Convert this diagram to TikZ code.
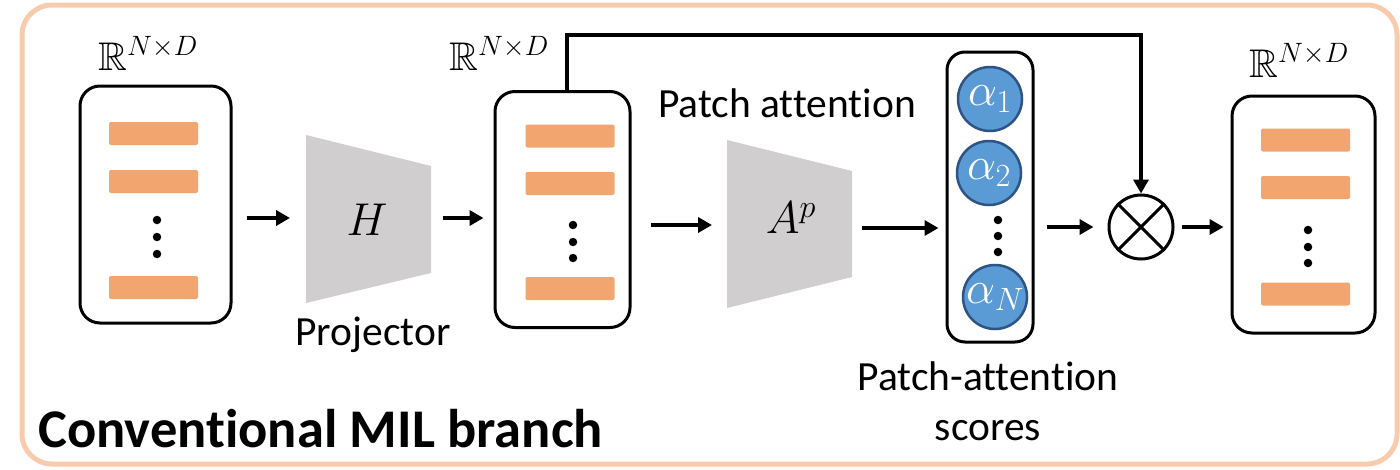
\RequirePackage{fix-cm}
\documentclass[tikz,border=0pt]{standalone}
\usepackage{amssymb}
\usepackage{fontspec}
\setmainfont{Carlito}[RawFeature={-liga;-clig;-calt;-dlig}]
\usetikzlibrary{arrows.meta}
\definecolor{frameor}{HTML}{F8CBAD}
\definecolor{baror}{HTML}{F3A56F}
\definecolor{trapgray}{HTML}{D0CECE}
\definecolor{circblue}{HTML}{5B9BD5}
\definecolor{circedge}{HTML}{2E5486}
\tikzset{
  featbox/.style={draw=black, line width=3pt, rounded corners=20pt, fill=white},
  bar/.style={fill=baror, rounded corners=2pt, draw=none, minimum width=89pt, minimum height=23pt, inner sep=0pt},
  vdot/.style={fill=black, circle, minimum size=8.5pt, inner sep=0pt},
  arr/.style={line width=3.5pt, -{Triangle[length=14pt,width=15pt]}},
  alpha/.style={circle, fill=circblue, draw=circedge, line width=2.5pt, minimum size=64pt, inner sep=0pt, text=white, font=\fontsize{46}{48}\selectfont},
  txt/.style={font=\fontsize{41.5}{50}\selectfont, inner sep=0pt},
  rlab/.style={font=\fontsize{40}{44}\selectfont, inner sep=0pt, anchor=base},
  trap/.style={fill=trapgray, draw=none}
}
\begin{document}
\begin{tikzpicture}[x=1pt,y=-1pt]
\useasboundingbox (0,0) rectangle (1400,469);
% outer frame
\draw[frameor, line width=5pt, rounded corners=30pt] (22,5) rectangle (1397,464);

% box 1
\node[featbox, minimum width=151pt, minimum height=237pt] (box1) at (155.5,204.5) {};
\node[bar] (b11) at (153.5,133.5) {};
\node[bar] (b12) at (153.5,181.5) {};
\node[bar] (b13) at (153.5,287.5) {};
\node[vdot] (d11) at (157,220) {};
\node[vdot] (d12) at (157,237) {};
\node[vdot] (d13) at (157,254) {};
\node[rlab] (r1) at (148,70) {$\mathbb{R}^{N\times D}$};

% projector H
\fill[trap] (306,135) -- (431,166) -- (431,273) -- (306,303) -- cycle;
\coordinate (Hl) at (306,218);
\coordinate (Hr) at (431,218);
\node[font=\fontsize{46}{48}\selectfont, inner sep=0pt] (H) at (367,220) {$H$};
\node[txt, anchor=base] (proj) at (373,345) {Projector};

% box 2
\node[featbox, minimum width=135pt, minimum height=236pt] (box2) at (562.5,209.5) {};
\node[bar] (b21) at (570,136) {};
\node[bar] (b22) at (570,183.5) {};
\node[bar] (b23) at (570,288.5) {};
\node[vdot] (d21) at (573,225) {};
\node[vdot] (d22) at (573,242) {};
\node[vdot] (d23) at (573,258) {};
\node[rlab] (r2) at (499,70) {$\mathbb{R}^{N\times D}$};

% patch attention A^p
\node[txt, anchor=base] (pa) at (787,117) {Patch attention};
\fill[trap] (727,140) -- (852,171) -- (852,277) -- (727,308) -- cycle;
\coordinate (Al) at (727,225);
\coordinate (Ar) at (852,228);
\node[font=\fontsize{46}{48}\selectfont, inner sep=0pt] (A) at (791,218) {$A^{p}$};

% scores
\node[featbox, rounded corners=18pt, minimum width=86pt, minimum height=290pt] (scores) at (990,197) {};
\node[alpha] (a1) at (990,99) {$\alpha_1$};
\node[alpha] (a2) at (989,173) {$\alpha_2$};
\node[alpha] (aN) at (995,297) {$\alpha_N$};
\node[vdot] (d31) at (998,220) {};
\node[vdot] (d32) at (998,236) {};
\node[vdot] (d33) at (998,252) {};
\node[txt, anchor=base, align=center] (pas) at (988,440) {Patch-attention\\[0pt]scores};

% otimes
\node[circle, draw=black, line width=3pt, minimum size=64pt, inner sep=0pt] (ot) at (1141,227) {};
\draw[line width=3pt] (ot.north west) -- (ot.south east) (ot.north east) -- (ot.south west);

% box 3
\node[featbox, minimum width=143pt, minimum height=237pt] (box3) at (1303.5,214.5) {};
\node[bar] (b31) at (1305.5,140) {};
\node[bar] (b32) at (1305.5,187.5) {};
\node[bar] (b33) at (1305.5,294) {};
\node[vdot] (d41) at (1308,230) {};
\node[vdot] (d42) at (1308,247) {};
\node[vdot] (d43) at (1308,263) {};
\node[rlab] (r3) at (1299,77) {$\mathbb{R}^{N\times D}$};

% title
\node[font=\bfseries\fontsize{54.5}{60}\selectfont, inner sep=0pt, anchor=base west] (title) at (38,447) {Conventional MIL branch};

% arrows
\draw[arr, shorten <=14pt, shorten >=16pt] (box1.east |- Hl) -- (Hl);
\draw[arr, shorten <=12pt, shorten >=10pt] (Hr) -- (box2.west |- Hr);
\draw[arr, shorten <=19pt, shorten >=15pt] (box2.east |- Al) -- (Al);
\draw[arr, shorten <=10pt, shorten >=7pt] (Ar) -- (scores.west |- Ar);
\draw[arr, shorten <=12pt, shorten >=14pt] (scores.east |- ot) -- (ot.west);
\draw[arr, shorten <=7pt, shorten >=7pt] (ot.east) -- (box3.west |- ot);
\coordinate (sk1) at (567,35);
\draw[arr] (box2.north -| sk1) -- (sk1) -| (ot.north);
\end{tikzpicture}
\end{document}
